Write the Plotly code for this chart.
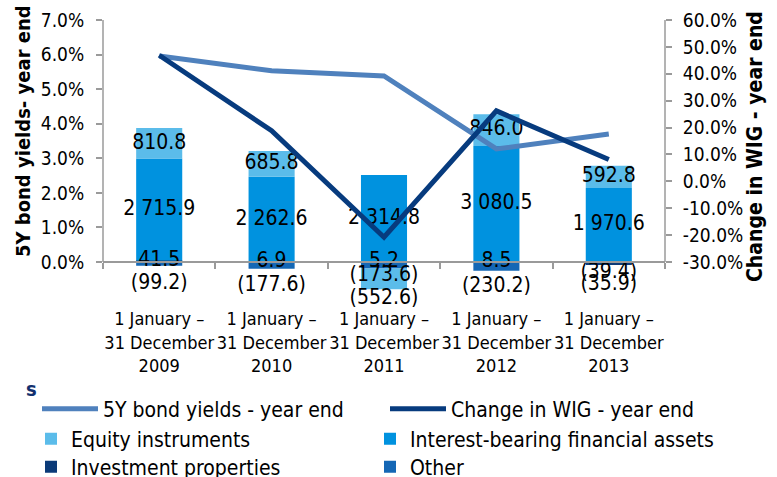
import plotly.graph_objects as go

# ---------------- data ----------------
years = ["2009", "2010", "2011", "2012", "2013"]
period_labels = [f"1 January –<br>31 December<br>{y}" for y in years]

equity = [810.8, 685.8, -552.6, 846.0, 592.8]
interest = [2715.9, 2262.6, 2314.8, 3080.5, 1970.6]
investment = [41.5, 6.9, 5.2, 8.5, -35.9]
other = [-99.2, -177.6, -173.6, -230.2, -39.4]

bond_yield = [5.96, 5.53, 5.38, 3.27, 3.70]
wig_change = [46.9, 18.8, -20.8, 26.2, 8.1]

bond_ticks = [0, 1, 2, 3, 4, 5, 6, 7]
wig_ticks = [-30, -20, -10, 0, 10, 20, 30, 40, 50, 60]

# ---------------- styles / layout geometry ----------------
FONT = "DejaVu Sans Condensed, DejaVu Sans, Arial"
C_EQ = "#5BBCEA"
C_INT = "#0092DF"
C_INV = "#0B3A78"
C_OTH = "#1467B5"
C_BOND = "#4F81BD"
C_WIG = "#073B7E"
AX = "#9A9A9A"
NAVY = "#12306E"

W, H = 777, 477
L, R = 103, 665          # plot area left / right (px)
T, B = 20, 312           # plot area top / bottom (px), bottom extended for negatives
Z = 262                  # zero line (px)
f = (B - Z) / (B - T)    # fraction of plot height below zero
BAR_TOP = 6450


def low(top, bottom_val=0.0):
    # lower range limit so that bottom_val sits at the zero line
    return bottom_val - (top - bottom_val) * f / (1 - f)


def px_x(px):
    return (px - L) / (R - L)


def px_y(py):
    return (B - py) / (B - T)


def fmt(v):
    s = f"{abs(v):,.1f}".replace(",", " ")
    return f"({s})" if v < 0 else s


# stacking order (as drawn by barmode="relative"): first trace nearest zero
series = [
    ("Other", other, C_OTH, "legend6"),
    ("Investment properties", investment, C_INV, "legend5"),
    ("Interest-bearing financial assets", interest, C_INT, "legend4"),
    ("Equity instruments", equity, C_EQ, "legend3"),
]

fig = go.Figure()

for name, vals, color, leg in series:
    fig.add_trace(go.Bar(
        name=name, x=period_labels, y=vals, yaxis="y",
        marker=dict(color=color, line=dict(width=0)),
        legend=leg, hoverinfo="skip"))

# data labels: centre of each stacked segment, computed from the stacked values
lab_x, lab_y, lab_t, lab_p, lab_s = [], [], [], [], []
for i in range(len(years)):
    pos_base, neg_base = 0.0, 0.0
    neg_names = [n for n, v, _, _ in series if v[i] < 0]
    for name, vals, _, _ in series:
        v = vals[i]
        if v >= 0:
            centre = pos_base + v / 2
            pos_base += v
            place, gap = "middle center", 0
        else:
            centre = neg_base + v / 2
            neg_base += v
            place = "bottom center"
            gap = 14 if name == neg_names[-1] else 0
        lab_x.append(period_labels[i])
        lab_y.append(centre)
        lab_t.append(fmt(v))
        lab_p.append(place)
        lab_s.append(gap)

fig.add_trace(go.Scatter(
    x=lab_x, y=lab_y, text=lab_t, textposition=lab_p, mode="markers+text", yaxis="y",
    marker=dict(size=lab_s, color="rgba(0,0,0,0)", line=dict(width=0)),
    textfont=dict(family=FONT, size=21, color="black"), cliponaxis=False,
    showlegend=False, hoverinfo="skip"))

fig.add_trace(go.Scatter(
    name="5Y bond yields - year end", x=period_labels, y=bond_yield, yaxis="y2",
    mode="lines", line=dict(color=C_BOND, width=5), legend="legend",
    hoverinfo="skip"))
fig.add_trace(go.Scatter(
    name="Change in WIG - year end", x=period_labels, y=wig_change, yaxis="y3",
    mode="lines", line=dict(color=C_WIG, width=5), legend="legend2",
    hoverinfo="skip"))

tickfont = dict(family=FONT, size=19, color="black")

leg_common = dict(orientation="h", xanchor="left", yanchor="middle",
                  font=dict(family=FONT, size=21, color="black"),
                  bgcolor="rgba(0,0,0,0)")

fig.update_layout(
    width=W, height=H,
    margin=dict(l=L, r=W - R, t=T, b=H - B, autoexpand=False),
    paper_bgcolor="white", plot_bgcolor="white",
    barmode="relative", bargap=0.59,
    font=dict(family=FONT, size=18, color="black"),
    xaxis=dict(
        anchor="free", position=f,
        showline=True, linecolor=AX, linewidth=1.5,
        ticks="outside", tickson="boundaries", ticklen=6, tickcolor=AX, tickwidth=1.5,
        tickfont=dict(family=FONT, size=18, color="black"), tickangle=0,
        ticklabelstandoff=41,
        showgrid=False, zeroline=False,
    ),
    yaxis=dict(range=[low(BAR_TOP), BAR_TOP], visible=False,
               showgrid=False, zeroline=False),
    yaxis2=dict(
        overlaying="y", side="left", range=[low(7), 7],
        tickvals=bond_ticks, ticktext=[f"{v:.1f}%" for v in bond_ticks],
        showline=False, ticklabelstandoff=8,
        ticks="outside", ticklen=6, tickcolor=AX, tickwidth=1.5,
        tickfont=tickfont, showgrid=False, zeroline=False,
    ),
    yaxis3=dict(
        overlaying="y", side="right", range=[low(60, -30), 60],
        tickvals=wig_ticks, ticktext=[f"{v:.1f}%" for v in wig_ticks],
        showline=False, ticklabelstandoff=7,
        ticks="outside", ticklen=6, tickcolor=AX, tickwidth=1.5,
        tickfont=tickfont, showgrid=False, zeroline=False,
    ),
    legend=dict(x=px_x(37), y=px_y(409), itemwidth=56, **leg_common),
    legend2=dict(x=px_x(385), y=px_y(409), itemwidth=56, **leg_common),
    legend3=dict(x=px_x(31), y=px_y(439), **leg_common),
    legend4=dict(x=px_x(370), y=px_y(439), **leg_common),
    legend5=dict(x=px_x(31), y=px_y(467), **leg_common),
    legend6=dict(x=px_x(370), y=px_y(467), **leg_common),
    showlegend=True,
)

# vertical axis lines, spanning only the visible tick range of each value axis
fig.add_shape(type="line", xref="paper", yref="y2", x0=0, x1=0,
              y0=bond_ticks[0], y1=bond_ticks[-1], line=dict(color=AX, width=1.5))
fig.add_shape(type="line", xref="paper", yref="y3", x0=1, x1=1,
              y0=wig_ticks[0], y1=wig_ticks[-1], line=dict(color=AX, width=1.5))

annotations = [
    dict(text="<b>Investment results vs macroeconomic factors</b>", xref="paper", yref="paper",
         x=px_x(24), y=px_y(7), xanchor="left", yanchor="bottom",
         showarrow=False, font=dict(family=FONT, size=20, color=NAVY)),
    dict(text="<b>s</b>", xref="paper", yref="paper",
         x=px_x(31), y=px_y(389), xanchor="center", yanchor="middle",
         showarrow=False, font=dict(family=FONT, size=20, color=NAVY)),
    dict(text="<b>5Y bond yields- year end</b>", xref="paper", yref="paper",
         x=px_x(23), y=px_y(131), xanchor="center", yanchor="middle",
         textangle=-90, showarrow=False, font=dict(family=FONT, size=20, color="black")),
    dict(text="<b>Change in WIG - year end</b>", xref="paper", yref="paper",
         x=px_x(755), y=px_y(147), xanchor="center", yanchor="middle",
         textangle=-90, showarrow=False, font=dict(family=FONT, size=21, color="black")),
]
fig.update_layout(annotations=annotations)

fig.write_html("out.html", config={"displayModeBar": False},
               post_script="document.body.style.margin='0px';")
